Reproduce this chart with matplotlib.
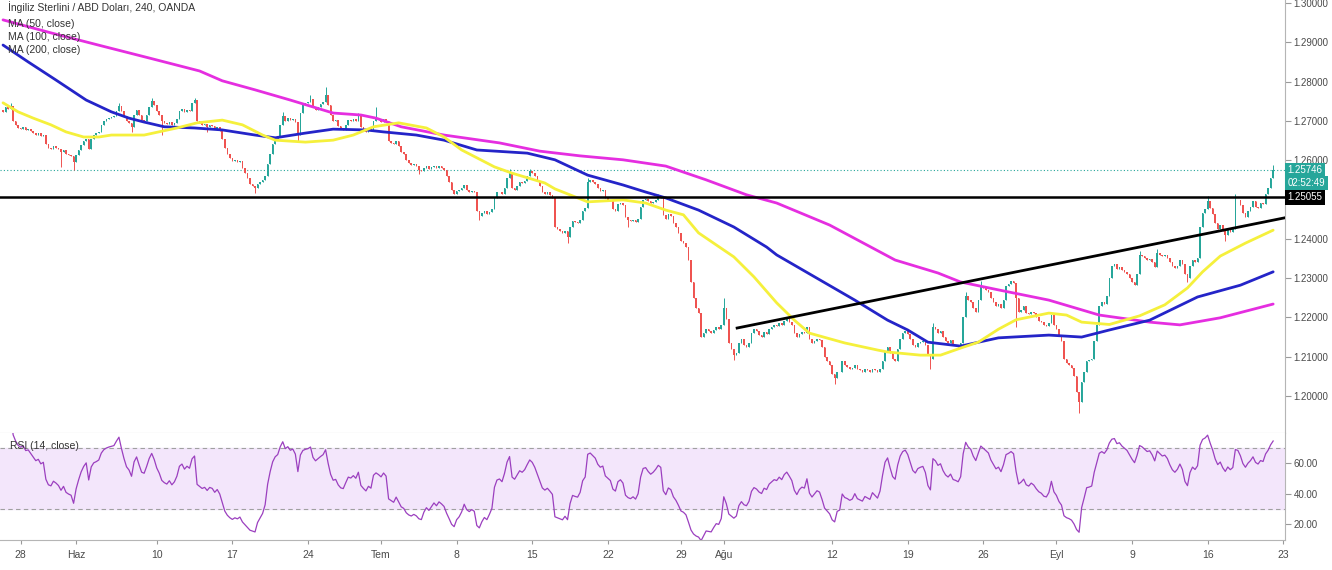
import numpy as np
import pandas as pd
from matplotlib import pyplot as plt

plt.rcParams['font.family'] = ['Liberation Sans', 'DejaVu Sans']

# 4h closes, GBP/USD (OANDA)
closes = [
    1.2722, 1.2735, 1.2730, 1.2738, 1.2700, 1.2690, 1.2683, 1.2680, 1.2685, 1.2678,
    1.2680, 1.2675, 1.2670, 1.2665, 1.2668, 1.2662, 1.2665, 1.2640, 1.2630, 1.2628,
    1.2635, 1.2632, 1.2628, 1.2620, 1.2625, 1.2615, 1.2612, 1.2610, 1.2595, 1.2612,
    1.2625, 1.2638, 1.2648, 1.2655, 1.2628, 1.2655, 1.2665, 1.2668, 1.2672, 1.2690,
    1.2700, 1.2705, 1.2708,
    1.2710, 1.2712, 1.2725, 1.2738, 1.2725, 1.2712, 1.2700, 1.2695, 1.2685, 1.2715,
    1.2728, 1.2715, 1.2702, 1.2700, 1.2715, 1.2735, 1.2750, 1.2740, 1.2725, 1.2715,
    1.2700, 1.2695, 1.2692, 1.2698, 1.2690, 1.2695, 1.2705, 1.2725, 1.2730, 1.2722,
    1.2728, 1.2725, 1.2745, 1.2752, 1.2700, 1.2695, 1.2690, 1.2692, 1.2685, 1.2690,
    1.2688, 1.2680, 1.2684, 1.2675,
    1.2655, 1.2630, 1.2615, 1.2605, 1.2598, 1.2600, 1.2596, 1.2598, 1.2580, 1.2568,
    1.2555, 1.2540, 1.2535, 1.2530, 1.2540, 1.2545, 1.2550, 1.2560, 1.2590, 1.2615,
    1.2640, 1.2655, 1.2662, 1.2690, 1.2712, 1.2700, 1.2708, 1.2702, 1.2706, 1.2698,
    1.2665, 1.2720, 1.2740, 1.2745, 1.2748, 1.2755, 1.2735, 1.2728, 1.2735, 1.2742,
    1.2748, 1.2765, 1.2740, 1.2715,
    1.2700, 1.2702, 1.2688, 1.2680, 1.2678, 1.2690, 1.2702, 1.2700, 1.2705, 1.2700,
    1.2712, 1.2685, 1.2678, 1.2672, 1.2680, 1.2676, 1.2700, 1.2705, 1.2702, 1.2698,
    1.2705, 1.2700, 1.2650, 1.2645, 1.2640, 1.2648, 1.2635, 1.2620, 1.2615, 1.2600,
    1.2592, 1.2588, 1.2590, 1.2585, 1.2575, 1.2572, 1.2580, 1.2585, 1.2578, 1.2582,
    1.2586, 1.2580, 1.2584, 1.2580, 1.2575,
    1.2560, 1.2545, 1.2525, 1.2515, 1.2522, 1.2525, 1.2530, 1.2538, 1.2525, 1.2520,
    1.2522, 1.2518, 1.2470, 1.2458, 1.2465, 1.2470, 1.2462, 1.2468, 1.2475, 1.2505,
    1.2518, 1.2520, 1.2515, 1.2530, 1.2555, 1.2570, 1.2530, 1.2525, 1.2535, 1.2545,
    1.2542, 1.2548, 1.2560, 1.2572, 1.2568, 1.2560, 1.2548, 1.2535, 1.2520, 1.2515,
    1.2518, 1.2512, 1.2505,
    1.2430, 1.2425, 1.2420, 1.2415, 1.2420, 1.2405, 1.2430, 1.2445, 1.2442, 1.2440,
    1.2448, 1.2470, 1.2478, 1.2545, 1.2550, 1.2545, 1.2540, 1.2528, 1.2522, 1.2525,
    1.2505, 1.2500, 1.2495, 1.2475, 1.2470, 1.2488, 1.2492, 1.2485, 1.2455, 1.2448,
    1.2445, 1.2448, 1.2442, 1.2450, 1.2480, 1.2500, 1.2502, 1.2495, 1.2490, 1.2494,
    1.2500, 1.2508, 1.2505, 1.2460, 1.2450,
    1.2462, 1.2458, 1.2440, 1.2430, 1.2415, 1.2395, 1.2390, 1.2380, 1.2345, 1.2290,
    1.2250, 1.2225, 1.2210, 1.2150, 1.2160, 1.2170, 1.2165, 1.2160, 1.2168, 1.2175,
    1.2170, 1.2180, 1.2225, 1.2195, 1.2135, 1.2120, 1.2105, 1.2110, 1.2135, 1.2145,
    1.2130, 1.2125, 1.2135, 1.2160, 1.2170, 1.2165, 1.2155, 1.2150, 1.2162, 1.2158,
    1.2170, 1.2175, 1.2180, 1.2178,
    1.2185, 1.2180, 1.2190, 1.2195, 1.2188, 1.2180, 1.2160, 1.2150, 1.2158, 1.2162,
    1.2160, 1.2175, 1.2145, 1.2135, 1.2140, 1.2145, 1.2142, 1.2125, 1.2100, 1.2090,
    1.2080, 1.2055, 1.2045, 1.2060, 1.2062, 1.2088, 1.2078, 1.2075, 1.2070, 1.2072,
    1.2080, 1.2068, 1.2065, 1.2062, 1.2068, 1.2065, 1.2062, 1.2070, 1.2065, 1.2060,
    1.2068, 1.2090, 1.2115, 1.2125,
    1.2110, 1.2095, 1.2090, 1.2120, 1.2145, 1.2160, 1.2165, 1.2158, 1.2145, 1.2130,
    1.2125, 1.2135, 1.2138, 1.2140, 1.2130, 1.2105, 1.2095, 1.2175, 1.2170, 1.2160,
    1.2165, 1.2150, 1.2140, 1.2135, 1.2142, 1.2130, 1.2128, 1.2125, 1.2135, 1.2200,
    1.2255, 1.2245, 1.2240, 1.2225, 1.2215, 1.2245, 1.2280, 1.2275, 1.2270, 1.2265,
    1.2250, 1.2240, 1.2230, 1.2235,
    1.2225, 1.2245, 1.2280, 1.2285, 1.2292, 1.2288, 1.2250, 1.2215, 1.2220, 1.2228,
    1.2212, 1.2208, 1.2215, 1.2210, 1.2200, 1.2192, 1.2188, 1.2180, 1.2178, 1.2185,
    1.2205, 1.2180, 1.2170, 1.2152, 1.2140, 1.2095, 1.2085, 1.2080, 1.2072, 1.2050,
    1.2010, 1.1985, 1.2035, 1.2060, 1.2090, 1.2092, 1.2095, 1.2140, 1.2180, 1.2230,
    1.2240, 1.2235, 1.2255, 1.2300,
    1.2330, 1.2335, 1.2322, 1.2328, 1.2320, 1.2315, 1.2310, 1.2300, 1.2290, 1.2282,
    1.2310, 1.2358, 1.2355, 1.2350, 1.2345, 1.2348, 1.2340, 1.2328, 1.2365, 1.2360,
    1.2355, 1.2358, 1.2352, 1.2340, 1.2330, 1.2325, 1.2332, 1.2345, 1.2335, 1.2310,
    1.2300, 1.2330, 1.2345, 1.2340, 1.2350, 1.2430, 1.2465, 1.2475, 1.2495, 1.2478,
    1.2462, 1.2440, 1.2425, 1.2435,
    1.2420, 1.2410, 1.2425, 1.2418, 1.2425, 1.2500, 1.2498, 1.2485, 1.2465, 1.2455,
    1.2470, 1.2480, 1.2495, 1.2482, 1.2478, 1.2490, 1.2488, 1.2515, 1.2530, 1.2555,
    1.2575,
]
first_open = 1.2728

# long wicks that stand out
wick_highs = {3: 1.2746, 46: 1.2745, 59: 1.2758, 76: 1.2758, 111: 1.2722, 122: 1.2766,
              128: 1.2786, 141: 1.2720, 148: 1.2736, 201: 1.2578, 209: 1.2578, 232: 1.2555,
              260: 1.2515, 286: 1.2250, 369: 1.2185, 382: 1.2265, 388: 1.2292, 451: 1.2368,
              458: 1.2375, 478: 1.2508, 489: 1.2515, 504: 1.2588}
wick_lows = {23: 1.2583, 28: 1.2575, 51: 1.2672, 63: 1.2665, 81: 1.2672, 100: 1.2516,
             117: 1.2647, 165: 1.2565, 189: 1.2448, 224: 1.2389, 248: 1.2430, 290: 1.2092,
             330: 1.2030, 368: 1.2070, 402: 1.2175, 427: 1.1958, 470: 1.2290, 485: 1.2395}

# moving averages (candle index, price)
ma50_idx = [0, 6, 12, 19, 25, 32, 38, 43, 56, 69, 77, 87, 95, 103, 108, 120, 131, 139, 147, 157,
            168, 175, 182, 195, 202, 215, 219, 232, 246, 255, 263, 270, 276, 290, 298, 307, 314,
            320, 334, 347, 351, 364, 372, 380, 387, 395, 402, 415, 422, 428, 439, 451, 461, 470,
            476, 483, 493, 504]
ma50_val = [1.2746, 1.2723, 1.2707, 1.2690, 1.2672, 1.2659, 1.2659, 1.2664, 1.2664, 1.2682,
            1.2695, 1.2702, 1.2690, 1.2664, 1.2651, 1.2646, 1.2651, 1.2664, 1.2685, 1.2695,
            1.2682, 1.2659, 1.2626, 1.2583, 1.2567, 1.2542, 1.2527, 1.2494, 1.2499, 1.2491,
            1.2473, 1.2461, 1.2415, 1.2354, 1.2303, 1.2237, 1.2193, 1.2160, 1.2135, 1.2117,
            1.2112, 1.2104, 1.2104, 1.2122, 1.2137, 1.2170, 1.2194, 1.2211, 1.2206, 1.2188,
            1.2182, 1.2204, 1.2232, 1.2275, 1.2316, 1.2356, 1.2389, 1.2422]
ma100_idx = [0, 10, 21, 33, 43, 50, 56, 64, 76, 87, 100, 108, 120, 131, 144, 151, 164, 175, 188,
             208, 219, 232, 246, 255, 263, 276, 290, 303, 307, 338, 351, 359, 367, 380, 395, 415,
             428, 439, 455, 474, 491, 504]
ma100_val = [1.2893, 1.2850, 1.2804, 1.2753, 1.2723, 1.2707, 1.2697, 1.2685, 1.2682, 1.2677,
             1.2664, 1.2657, 1.2669, 1.2679, 1.2677, 1.2672, 1.2664, 1.2651, 1.2626, 1.2618,
             1.2601, 1.2562, 1.2537, 1.2519, 1.2504, 1.2473, 1.2430, 1.2379, 1.2359, 1.2244,
             1.2193, 1.2168, 1.2137, 1.2127, 1.2148, 1.2155, 1.2150, 1.2168, 1.2193, 1.2252,
             1.2282, 1.2316]
ma200_idx = [0, 19, 39, 58, 78, 87, 100, 114, 131, 142, 148, 158, 175, 197, 213, 229, 246, 263,
             279, 295, 307, 328, 354, 371, 380, 395, 415, 435, 455, 467, 483, 504]
ma200_val = [1.2957, 1.2924, 1.2891, 1.2860, 1.2827, 1.2802, 1.2779, 1.2753, 1.2720, 1.2715,
             1.2707, 1.2685, 1.2664, 1.2644, 1.2623, 1.2611, 1.2601, 1.2585, 1.2550, 1.2512,
             1.2491, 1.2435, 1.2346, 1.2313, 1.2290, 1.2270, 1.2244, 1.2206, 1.2188, 1.2181,
             1.2199, 1.2234]

tick_idx = [7, 29, 61, 91, 121, 150, 180, 210, 240, 269, 286, 329, 359, 389, 418, 448, 478, 508]
tick_lbl = ["28", "Haz", "10", "17", "24", "Tem", "8", "15", "22", "29", "Ağu",
            "12", "19", "26", "Eyl", "9", "16", "23"]
price_ticks = [1.20, 1.21, 1.22, 1.23, 1.24, 1.25, 1.26, 1.27, 1.28, 1.29, 1.30]
rsi_ticks = [20, 40, 60]

resistance = 1.25055
last_price = 1.25746
timer_text = "02:52:49"
trend_x = [291.3, 508.3]
trend_y = [1.2173, 1.2453]

UP = '#26a69a'
DOWN = '#ef5350'

c = np.array(closes)
o = np.r_[first_open, c[:-1]]
hi = np.maximum(o, c)
lo = np.minimum(o, c)
for k, v in wick_highs.items():
    hi[k] = v
for k, v in wick_lows.items():
    lo[k] = v
x = np.arange(len(c))
col = np.where(c >= o, UP, DOWN)

fig = plt.figure(figsize=(13.32, 5.70), dpi=100)
W, H = 1332.0, 570.0
ax = fig.add_axes([0, 1 - 433 / H, 1285 / W, 433 / H])
ax2 = fig.add_axes([0, 1 - 540 / H, 1285 / W, 107 / H])

# candles
ax.vlines(x, lo, hi, colors=col, lw=0.7, zorder=2)
ax.bar(x, np.maximum(np.abs(c - o), 0.00012), bottom=np.minimum(o, c), width=0.62,
       color=col, linewidth=0, zorder=2)

ax.plot(ma200_idx, ma200_val, color='#e52ee0', lw=2.0, zorder=3, solid_capstyle='round')
ax.plot(ma100_idx, ma100_val, color='#2424c8', lw=2.0, zorder=3, solid_capstyle='round')
ax.plot(ma50_idx, ma50_val, color='#f5f03c', lw=2.0, zorder=3, solid_capstyle='round')

ax.axhline(last_price, color=UP, lw=0.8, ls=(0, (1, 2)), zorder=1)
ax.axhline(resistance, color='black', lw=1.8, zorder=4)
ax.plot(trend_x, trend_y, color='black', lw=2.0, zorder=4)

ax.set_xlim(-1.2, 508.7)
ax.set_ylim(1.19059, 1.30076)
ax.set_xticks([])
ax.yaxis.tick_right()
ax.set_yticks(price_ticks)
# the 1.25000 label sits under the black 1.25055 marker, so it is not shown
ax.set_yticklabels(["" if abs(p - resistance) < 0.001 else f"{p:.5f}" for p in price_ticks])
ax.tick_params(axis='y', labelsize=7, labelcolor='#4a4a4a', length=4, color='#9a9a9a', pad=2)
for s in ['top', 'left']:
    ax.spines[s].set_visible(False)
ax.spines['right'].set_color('#b5b5b5')
ax.spines['bottom'].set_color('#c8c8c8')
ax.spines['bottom'].set_linewidth(0.8)

ytr = ax.get_yaxis_transform()
box = dict(boxstyle='square,pad=0.25', ec='none')
ax.text(1.002, last_price, f"{last_price:.5f}", transform=ytr, ha='left', va='center',
        fontsize=7, color='white', bbox=dict(box, fc=UP), clip_on=False, zorder=6)
ax.text(1.002, 1.2542, timer_text, transform=ytr, ha='left', va='center',
        fontsize=7, color='white', bbox=dict(box, fc=UP), clip_on=False, zorder=6)
ax.text(1.002, resistance, f"{resistance:.5f}", transform=ytr, ha='left', va='center',
        fontsize=7, color='white', bbox=dict(box, fc='black'), clip_on=False, zorder=6)

# RSI panel
delta = pd.Series(c).diff()
gain = delta.clip(lower=0).ewm(alpha=1 / 14, adjust=False).mean()
loss = (-delta.clip(upper=0)).ewm(alpha=1 / 14, adjust=False).mean()
rsi = 100 - 100 / (1 + gain / loss)

ax2.axhspan(30, 70, color='#f3e6fb', zorder=0)
ax2.axhline(70, color='#a0a0a0', lw=0.8, ls=(0, (4, 3)))
ax2.axhline(30, color='#a0a0a0', lw=0.8, ls=(0, (4, 3)))
ax2.plot(x[1:], rsi[1:], color='#9b3fbf', lw=0.9)
ax2.set_xlim(-1.2, 508.7)
ax2.set_ylim(9.7, 79.5)
ax2.yaxis.tick_right()
ax2.set_yticks(rsi_ticks)
ax2.set_yticklabels([f"{v:.2f}" for v in rsi_ticks])
ax2.tick_params(axis='y', labelsize=7, labelcolor='#4a4a4a', length=4, color='#9a9a9a', pad=2)
ax2.set_xticks(tick_idx)
ax2.set_xticklabels(tick_lbl)
ax2.tick_params(axis='x', labelsize=7.5, labelcolor='#4a4a4a', length=3, color='#9a9a9a', pad=4)
for s in ['top', 'left']:
    ax2.spines[s].set_visible(False)
ax2.spines['right'].set_color('#b5b5b5')
ax2.spines['bottom'].set_color('#b5b5b5')

# legends
fig.text(8 / W, 1 - 7 / H, "İngiliz Sterlini / ABD Doları, 240, OANDA", fontsize=7.5,
         color='#333333', va='center')
for k, t in enumerate(["MA (50, close)", "MA (100, close)", "MA (200, close)"]):
    fig.text(8 / W, 1 - (24 + 13 * k) / H, t, fontsize=7.5, color='#333333', va='center')
fig.text(10 / W, 1 - 446 / H, "RSI (14, close)", fontsize=7.5, color='#333333', va='center')

plt.savefig('out.png', dpi=100, facecolor='white')
